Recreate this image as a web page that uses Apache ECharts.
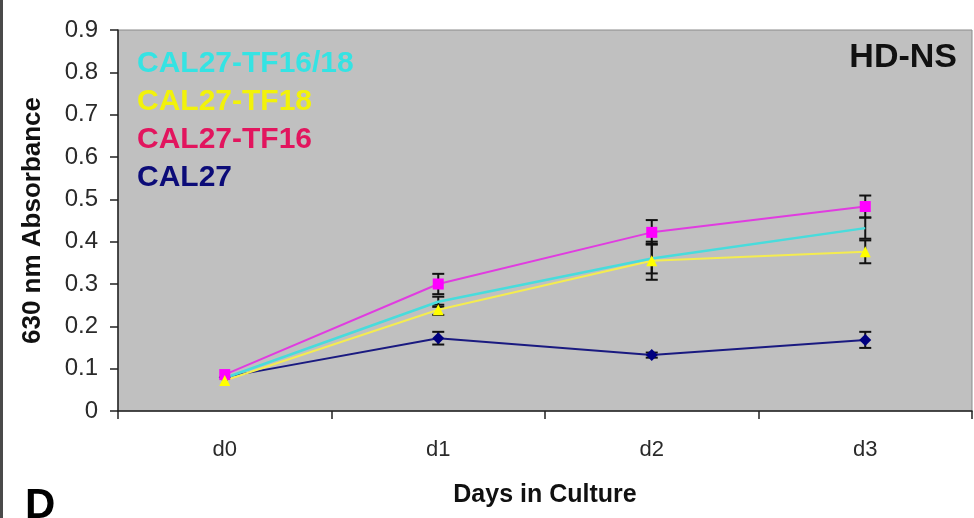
<!DOCTYPE html>
<html>
<head>
<meta charset="utf-8">
<script src="https://cdn.jsdelivr.net/npm/echarts@6/dist/echarts.min.js"></script>
<style>
html,body{margin:0;padding:0;background:#fff;}
#chart{width:974px;height:518px;}
</style>
</head>
<body>
<div id="chart"></div>
<script>
// ---- data ----
const days = ['d0', 'd1', 'd2', 'd3'];
const yTicks = [0, 0.1, 0.2, 0.3, 0.4, 0.5, 0.6, 0.7, 0.8, 0.9];

const cal27      = [0.080, 0.172, 0.132, 0.168];
const cal27Err   = [0.000, 0.015, 0.006, 0.019];
const tf16       = [0.086, 0.300, 0.422, 0.483];
const tf16Err    = [0.000, 0.024, 0.029, 0.026];
const tf18       = [0.072, 0.239, 0.355, 0.376];
const tf18Err    = [0.000, 0.012, 0.045, 0.027];
const tf1618     = [0.078, 0.258, 0.360, 0.432];
const tf1618Err  = [0.000, 0.012, 0.035, 0.025];

const seriesNames = ['CAL27-TF16/18', 'CAL27-TF18', 'CAL27-TF16', 'CAL27'];

const chart = echarts.init(document.getElementById('chart'), null, {renderer: 'canvas'});

function errData(vals, errs) {
  return vals.map((v, i) => [i, v, errs[i]]);
}
function errSeries(name, vals, errs) {
  return {
    type: 'custom',
    name: name + ' err',
    z: 1,
    silent: true,
    data: errData(vals, errs),
    encode: {x: 0, y: 1},
    renderItem: function (params, api) {
      const x = api.value(0), y = api.value(1), e = api.value(2);
      if (!(e > 0)) return null;
      const top = api.coord([x, y + e]);
      const bot = api.coord([x, y - e]);
      const hw = 6;
      const st = {stroke: '#111', lineWidth: 2};
      return {
        type: 'group',
        children: [
          {type: 'line', shape: {x1: top[0], y1: top[1], x2: bot[0], y2: bot[1]}, style: st},
          {type: 'line', shape: {x1: top[0] - hw, y1: top[1], x2: top[0] + hw, y2: top[1]}, style: st},
          {type: 'line', shape: {x1: bot[0] - hw, y1: bot[1], x2: bot[0] + hw, y2: bot[1]}, style: st}
        ]
      };
    }
  };
}

const labelFont = 'Liberation Sans, Arial, sans-serif';

const option = {
  animation: false,
  backgroundColor: '#ffffff',
  grid: {
    left: 118, right: 2, top: 30, bottom: 107,
    show: true, backgroundColor: '#c0c0c0', borderColor: '#8a8a8a', borderWidth: 1
  },
  legend: {
    data: [
      {name: seriesNames[0], textStyle: {color: '#35e3e3'}},
      {name: seriesNames[1], textStyle: {color: '#f2f20a'}},
      {name: seriesNames[2], textStyle: {color: '#e2155e'}},
      {name: seriesNames[3], textStyle: {color: '#0c0c78'}}
    ],
    orient: 'vertical',
    left: 132, top: 49,
    padding: 0,
    icon: 'none',
    itemWidth: 0,
    itemHeight: 30,
    itemGap: 8,
    selectedMode: false,
    textStyle: {fontFamily: labelFont, fontWeight: 'bold', fontSize: 30}
  },
  xAxis: {
    type: 'category',
    data: days,
    boundaryGap: true,
    name: 'Days in Culture',
    nameLocation: 'middle',
    nameGap: 72,
    nameTextStyle: {fontFamily: labelFont, fontWeight: 'bold', fontSize: 25, color: '#111'},
    axisLine: {lineStyle: {color: '#222', width: 1.5}},
    axisTick: {show: true, length: 8, lineStyle: {color: '#222', width: 1.5}},
    axisLabel: {fontFamily: labelFont, fontSize: 22, color: '#2a2a2a', margin: 28}
  },
  yAxis: {
    type: 'value',
    min: yTicks[0], max: yTicks[yTicks.length - 1], interval: 0.1,
    name: '630 nm Absorbance',
    nameLocation: 'middle',
    nameGap: 72,
    nameTextStyle: {fontFamily: labelFont, fontWeight: 'bold', fontSize: 26, color: '#111'},
    axisLine: {show: true, lineStyle: {color: '#222', width: 1.5}},
    axisTick: {show: true, length: 8, lineStyle: {color: '#222', width: 1.5}},
    splitLine: {show: false},
    axisLabel: {fontFamily: labelFont, fontSize: 24, color: '#2a2a2a', margin: 20,
      formatter: v => (Math.round(v * 10) / 10).toString()}
  },
  series: [
    errSeries('CAL27', cal27, cal27Err),
    errSeries('CAL27-TF16', tf16, tf16Err),
    errSeries('CAL27-TF18', tf18, tf18Err),
    errSeries('CAL27-TF16/18', tf1618, tf1618Err),
    {
      name: 'CAL27', type: 'line', data: cal27, z: 3,
      symbol: 'diamond', symbolSize: 12,
      lineStyle: {color: '#1a1a80', width: 2},
      itemStyle: {color: '#000080'}
    },
    {
      name: 'CAL27-TF16', type: 'line', data: tf16, z: 3,
      symbol: 'rect', symbolSize: 11,
      lineStyle: {color: '#e03ce0', width: 2},
      itemStyle: {color: '#ff00ff'}
    },
    {
      name: 'CAL27-TF18', type: 'line', data: tf18, z: 3,
      symbol: 'triangle', symbolSize: 11,
      lineStyle: {color: '#f4ec50', width: 2},
      itemStyle: {color: '#ffff00'}
    },
    {
      name: 'CAL27-TF16/18', type: 'line', data: tf1618, z: 3,
      symbol: 'none',
      lineStyle: {color: '#48dcdc', width: 2.5},
      itemStyle: {color: '#48dcdc'}
    }
  ],
  graphic: [
    {type: 'rect', left: 0, top: 0, shape: {width: 3, height: 518}, style: {fill: '#4a4a4a'}, silent: true},
    {type: 'text', right: 17, top: 41, style: {text: 'HD-NS', font: 'bold 34px Liberation Sans, Arial, sans-serif', fill: '#111'}, z: 10},
    {type: 'text', left: 25, top: 485, style: {text: 'D', font: 'bold 42px Liberation Sans, Arial, sans-serif', fill: '#000'}, z: 10}
  ]
};

chart.setOption(option);
</script>
</body>
</html>
